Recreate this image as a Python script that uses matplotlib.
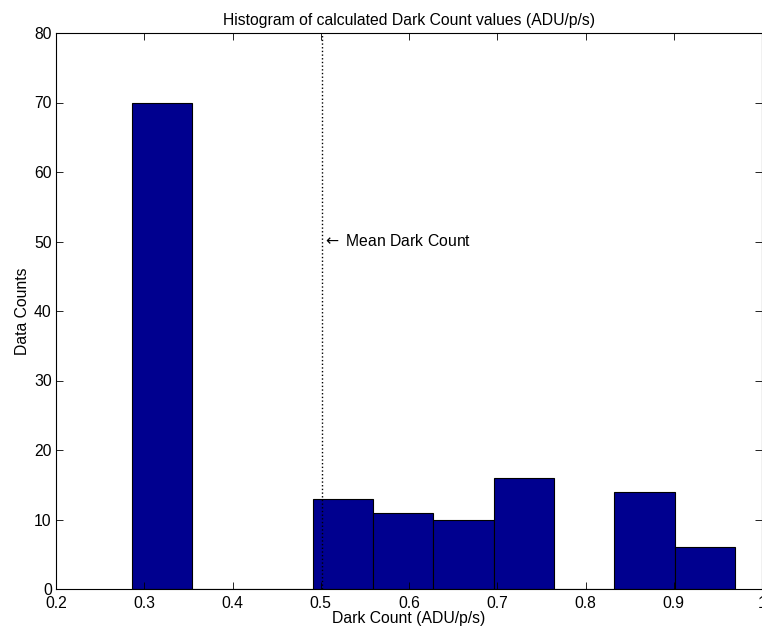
#!/usr/bin/env python3
"""
Histogram of calculated dark count values, MATLAB-style.
"""
import matplotlib
matplotlib.use('Agg')
import matplotlib.pyplot as plt
import numpy as np

# Histogram data
bin_edges = [0.2858, 0.3542, 0.4225, 0.4909, 0.5592, 0.6276,
             0.6960, 0.7643, 0.8327, 0.9011, 0.9694]
counts = [70, 0, 0, 13, 11, 10, 16, 0, 14, 6]
mean_dark_count = 0.5014

x_ticks = [0.2, 0.3, 0.4, 0.5, 0.6, 0.7, 0.8, 0.9, 1.0]
x_tick_labels = ['0.2', '0.3', '0.4', '0.5', '0.6', '0.7', '0.8', '0.9', '1']
y_ticks = [0, 10, 20, 30, 40, 50, 60, 70, 80]

FS = 11.3
plt.rcParams['font.family'] = ['Liberation Sans', 'DejaVu Sans']
plt.rcParams['font.size'] = FS

fig = plt.figure(figsize=(7.62, 6.33), dpi=100)
ax = fig.add_axes([56 / 762, 44 / 633, 706 / 762, 556 / 633])

edges = np.array(bin_edges)
ax.bar(edges[:-1], counts, width=np.diff(edges), align='edge',
       color='#00008F', edgecolor='black', linewidth=0.8)

# mean marker line and annotation
ax.plot([mean_dark_count, mean_dark_count], [0, 80], color='black',
        linestyle=':', linewidth=1.0)
ax.text(mean_dark_count, 50, r'$\leftarrow$ Mean Dark Count', ha='left', va='center',
        fontsize=FS)

ax.set_xlim(0.2, 1.0)
ax.set_ylim(0, 80)
ax.set_xticks(x_ticks)
ax.set_xticklabels(x_tick_labels)
ax.set_yticks(y_ticks)
ax.tick_params(direction='in', top=True, right=True, length=5, width=0.6,
               labelsize=FS)
ax.tick_params(axis='x', pad=5)
ax.tick_params(axis='y', pad=3)
for spine in ax.spines.values():
    spine.set_linewidth(0.8)

ax.set_title('Histogram of calculated Dark Count values (ADU/p/s)', fontsize=FS, pad=6)
ax.set_xlabel('Dark Count (ADU/p/s)', fontsize=FS, labelpad=0)
ax.set_ylabel('Data Counts', fontsize=FS, labelpad=3)

plt.savefig('out.png', dpi=100)
